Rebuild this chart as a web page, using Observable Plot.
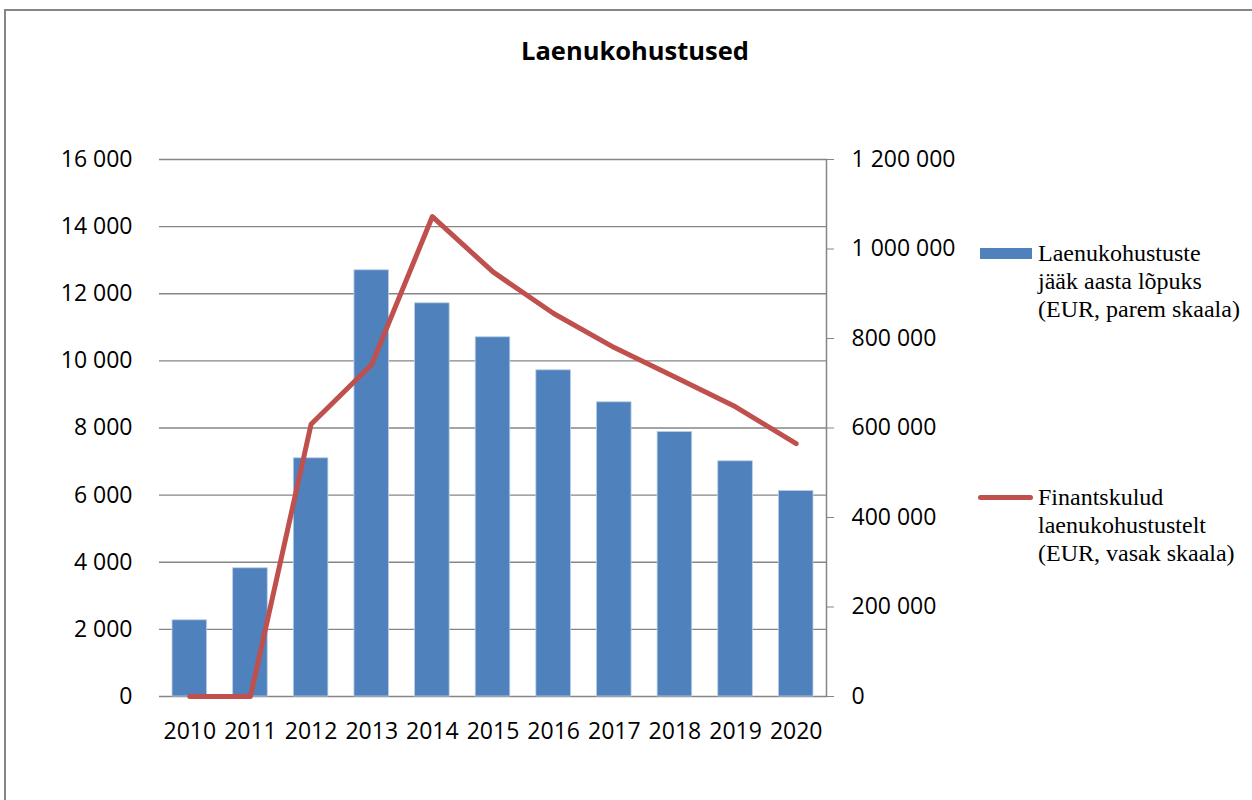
<!DOCTYPE html>
<html>
<head>
<meta charset="utf-8">
<script src="https://cdn.jsdelivr.net/npm/d3@7"></script>
<script src="https://cdn.jsdelivr.net/npm/@observablehq/plot@0.6"></script>
<style>
  body { margin: 0; background: #fff; }
  #wrap { position: relative; width: 1252px; height: 800px; overflow: hidden; background: #fff; }
  #frame { position: absolute; left: 4px; top: 9px; width: 1400px; height: 1000px;
           border-top: 2px solid #868686; border-left: 2px solid #868686; }
  #chart { position: absolute; left: 0; top: 0; }
  #title { position: absolute; left: 0; top: 33px; width: 1270px; text-align: center;
           font: bold 25.5px/34px "Open Sans", sans-serif; color: #000; }
  .lg-text { position: absolute; left: 1038px; font: 24px/28px "Liberation Serif", serif; color: #000; white-space: nowrap; }
  .sw-bar { position: absolute; left: 980px; top: 248px; width: 52px; height: 11px; background: #4F81BD; }
  .sw-line { position: absolute; left: 978px; top: 494.5px; width: 55px; height: 5px; background: #C0504D; border-radius: 3px; }
</style>
</head>
<body>
<div id="wrap">
  <div id="frame"></div>
  <div id="chart"></div>
  <div id="title">Laenukohustused</div>
  <div class="sw-bar"></div>
  <div class="lg-text" id="lg1" style="top:238.6px"></div>
  <div class="sw-line"></div>
  <div class="lg-text" id="lg2" style="top:483px"></div>
</div>
<script>
// Data
const years = ["2010","2011","2012","2013","2014","2015","2016","2017","2018","2019","2020"];
// Laenukohustuste jääk aasta lõpuks (EUR, right scale)
const loanBalance = [170300, 286500, 532300, 952400, 878600, 802700, 728900, 657400, 591000, 525600, 459200];
// Finantskulud laenukohustustelt (EUR, left scale)
const financeCosts = [0, 0, 8110, 9890, 14300, 12650, 11410, 10395, 9520, 8630, 7535];
const leftTicks = [0, 2000, 4000, 6000, 8000, 10000, 12000, 14000, 16000];
const rightTicks = [0, 200000, 400000, 600000, 800000, 1000000, 1200000];
const seriesNames = [
  ["Laenukohustuste", "jääk aasta lõpuks", "(EUR, parem skaala)"],
  ["Finantskulud", "laenukohustustelt", "(EUR, vasak skaala)"]
];

const leftMax = 16000, rightMax = 1200000;
const ratio = rightMax / leftMax;

const table = years.map((y, i) => ({year: y, balance: loanBalance[i], cost: financeCosts[i]}));
const fmt = d3.formatLocale({decimal: ",", thousands: " ", grouping: [3], currency: ["", ""]}).format(",");

const chart = Plot.plot({
  width: 1252,
  height: 800,
  marginLeft: 159,
  marginRight: 426,
  marginTop: 159,
  marginBottom: 104,
  x: {type: "band", domain: years, paddingInner: 0.43, paddingOuter: 0.215, round: false, label: null},
  y: {domain: [0, leftMax], label: null},
  style: {fontFamily: "'Open Sans', sans-serif", fontSize: "23px", color: "#000", background: "transparent"},
  marks: [
    Plot.gridY(leftTicks, {stroke: "#868686", strokeOpacity: 1, strokeWidth: 1.3}),
    Plot.barY(table, {x: "year", y: d => d.balance / ratio, fill: "#4F81BD", stroke: "#B9CDE5", strokeWidth: 0.8}),
    Plot.lineY(table, {x: "year", y: "cost", stroke: "#C0504D", strokeWidth: 5, strokeLinecap: "round", strokeLinejoin: "round"}),
    Plot.axisY(leftTicks, {anchor: "left", tickSize: 0, tickPadding: 27, tickFormat: fmt, label: null}),
    Plot.axisY(rightTicks.map(v => v / ratio), {anchor: "right", tickSize: 7, tickPadding: 18, stroke: "#868686",
      tickFormat: d => fmt(Math.round(d * ratio)), label: null}),
    Plot.axisX({tickSize: 0, tickPadding: 26, label: null}),
    Plot.frame({anchor: "right", stroke: "#868686", strokeWidth: 1.5})
  ]
});
document.getElementById("chart").appendChild(chart);
document.getElementById("lg1").innerHTML = seriesNames[0].join("<br>");
document.getElementById("lg2").innerHTML = seriesNames[1].join("<br>");
</script>
</body>
</html>
